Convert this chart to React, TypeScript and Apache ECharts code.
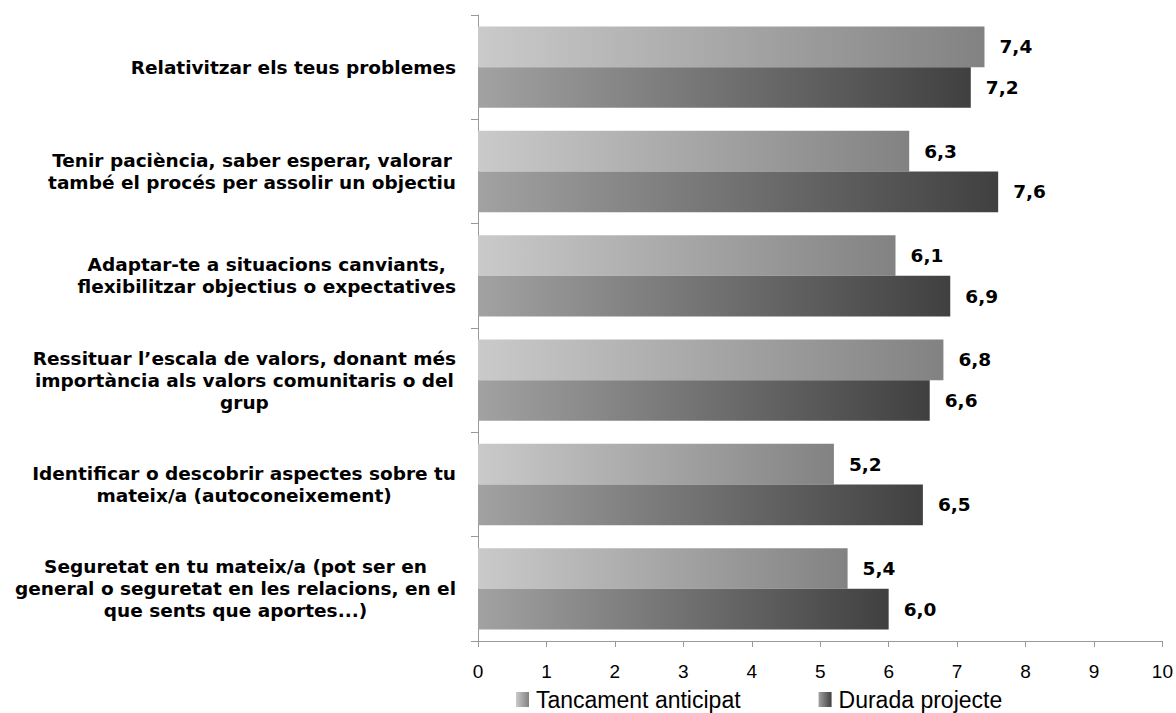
import React, { useEffect, useRef } from "react";
import * as echarts from "echarts";

const categories = [
  "Relativitzar els teus problemes",
  "Tenir paciència, saber esperar, valorar\ntambé el procés per assolir un objectiu",
  "Adaptar-te a situacions canviants,\nflexibilitzar objectius o expectatives",
  "Ressituar l’escala de valors, donant més\nimportància als valors comunitaris o del\ngrup",
  "Identificar o descobrir aspectes sobre tu\nmateix/a (autoconeixement)",
  "Seguretat en tu mateix/a (pot ser en\ngeneral o seguretat en les relacions, en el\nque sents que aportes...)",
];
const seriesNames = ["Tancament anticipat", "Durada projecte"];
const tancament = [7.4, 6.3, 6.1, 6.8, 5.2, 5.4];
const durada = [7.2, 7.6, 6.9, 6.6, 6.5, 6.0];

const grad = (a: string, b: string) =>
  new echarts.graphic.LinearGradient(0, 0, 1, 0, [
    { offset: 0, color: a },
    { offset: 1, color: b },
  ]);

export default function App() {
  const ref = useRef<HTMLDivElement>(null);
  useEffect(() => {
    if (!ref.current) return;
    document.body.style.margin = "0";
    document.body.style.overflow = "hidden";
    const chart = echarts.init(ref.current, undefined, { renderer: "svg" });
    const regular = "'Liberation Sans', Arial, sans-serif";
    const bold = "'DejaVu Sans', Verdana, sans-serif";
    const valueLabel = {
      show: true,
      position: "right" as const,
      distance: 15,
      fontFamily: bold,
      fontWeight: "bold" as const,
      fontSize: 18.5,
      color: "#000",
      formatter: (p: any) => Number(p.value).toFixed(1).replace(".", ","),
    };
    chart.setOption({
      animation: false,
      grid: { left: 478, right: 13, top: 15, bottom: 72, containLabel: false },
      legend: {
        left: 516,
        top: 688,
        padding: 0,
        itemWidth: 13,
        itemHeight: 15,
        itemGap: 78,
        icon: "rect",
        textStyle: { fontFamily: regular, fontSize: 23, color: "#000", padding: [0, 0, 0, 2] },
        data: seriesNames,
      },
      xAxis: {
        type: "value",
        min: 0,
        max: 10,
        interval: 1,
        splitLine: { show: false },
        axisLine: { show: true, lineStyle: { color: "#999" } },
        axisTick: { show: true, length: 6, lineStyle: { color: "#999" } },
        axisLabel: { fontFamily: regular, fontSize: 19, color: "#000", margin: 21 },
      },
      yAxis: {
        type: "category",
        inverse: true,
        data: categories,
        axisLine: { show: true, lineStyle: { color: "#999" } },
        axisTick: { show: true, length: 7, lineStyle: { color: "#999" } },
        axisLabel: {
          margin: 22,
          align: "right",
          fontFamily: bold,
          fontWeight: "bold",
          fontSize: 18.5,
          lineHeight: 22,
          color: "#000",
          formatter: (v: string) =>
            v
              .split("\n")
              .map((l) => "{c|" + l + "}")
              .join("\n"),
          rich: {
            c: {
              align: "center",
              fontFamily: bold,
              fontWeight: "bold",
              fontSize: 18.5,
              lineHeight: 22,
              color: "#000",
            },
          },
        },
      },
      series: [
        {
          name: seriesNames[0],
          type: "bar",
          data: tancament,
          barCategoryGap: "22%",
          barGap: "0%",
          itemStyle: { color: grad("#cacaca", "#828282") },
          label: valueLabel,
        },
        {
          name: seriesNames[1],
          type: "bar",
          data: durada,
          barCategoryGap: "22%",
          barGap: "0%",
          itemStyle: { color: grad("#a2a2a2", "#404040") },
          label: valueLabel,
        },
      ],
    });
    return () => chart.dispose();
  }, []);
  return (
    <div
      ref={ref}
      style={{ position: "absolute", left: 0, top: 0, width: 1176, height: 713 }}
    />
  );
}
